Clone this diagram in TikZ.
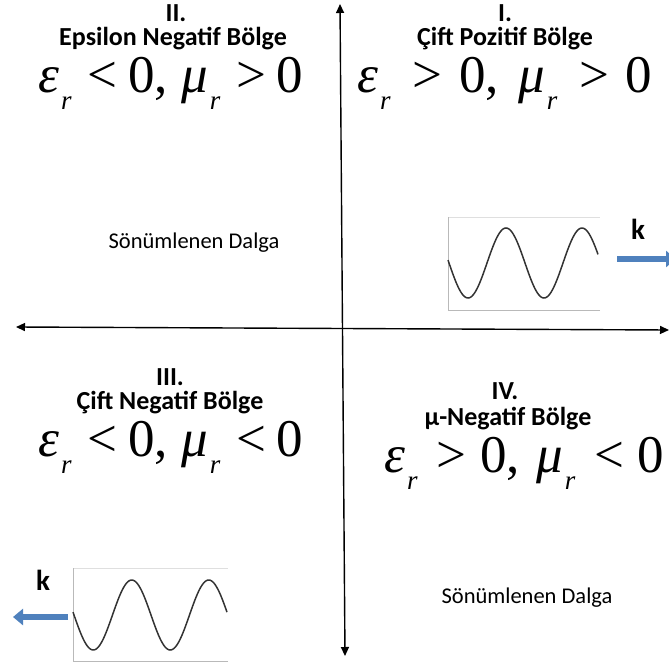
\documentclass[tikz,border=0pt]{standalone}
\usepackage{fontspec}
\setmainfont{Carlito}
\newfontfamily\formfont{Liberation Serif}
\usetikzlibrary{arrows.meta}
\definecolor{kblue}{RGB}{79,129,189}
\newcommand{\subr}{\hspace{0.04em}\raisebox{-0.32em}{\fontsize{27}{27}\selectfont\itshape r}}
% #5 = extra gap
\newcommand{\frm}[5]{{\formfont\fontsize{53}{53}\selectfont\itshape #1\subr\upshape\hspace{\dimexpr0.3em+#5\relax}#2\hspace{\dimexpr0.2em+#5\relax}0,\hspace{\dimexpr0.25em+#5\relax}\itshape #3\subr\upshape\hspace{\dimexpr0.3em+#5\relax}#4\hspace{\dimexpr0.2em+#5\relax}0}}
\begin{document}
\begin{tikzpicture}[x=1pt,y=-1pt,
  roman/.style={font=\fontsize{26}{26}\selectfont\bfseries,inner sep=0pt},
  head/.style={font=\fontsize{26}{26}\selectfont\bfseries,inner sep=0pt},
  note/.style={font=\fontsize{22.5}{22.5}\selectfont},
  formula/.style={anchor=west,inner sep=0pt},
  axis/.style={line width=1.4pt,{Triangle[length=9pt,width=8pt]}-{Triangle[length=9pt,width=8pt]}},
  frameline/.style={gray!55,line width=0.8pt},
  frametop/.style={gray!25,line width=0.8pt},
  wave/.style={line width=1.5pt,black!80,smooth},
  karrow/.style={kblue,line width=6.5pt,-{Triangle[length=10pt,width=16pt]}},
  klabel/.style={font=\fontsize{29}{29}\selectfont\bfseries}]
\useasboundingbox (0,0) rectangle (669,663);
% axes
\coordinate (xl) at (16,327);
\coordinate (xr) at (669,330);
\coordinate (yt) at (340,4);
\coordinate (yb) at (345,656);
\draw[axis] (xl) -- (xr);
\draw[axis] (yt) -- (yb);
% Quadrant II
\node[roman] (r2) at (176,13) {II.};
\node[head] (h2) at (173,39) {Epsilon Negatif Bölge};
\node[formula] (f2) at (38,83) {\frm{ε}{<}{μ}{>}{0pt}};
\node[note] (s2) at (194,243) {Sönümlenen Dalga};
% Quadrant I
\node[roman] (r1) at (505,13) {I.};
\node[head] (h1) at (505,39) {Çift Pozitif Bölge};
\node[formula] (f1) at (357,83) {\frm{ε}{>}{μ}{>}{6pt}};
% Quadrant III
\node[roman] (r3) at (170,377) {III.};
\node[head] (h3) at (170,403) {Çift Negatif Bölge};
\node[formula] (f3) at (38,447) {\frm{ε}{<}{μ}{<}{0pt}};
% Quadrant IV
\node[roman] (r4) at (505,391) {IV.};
\node[head] (h4) at (508,419) {μ-Negatif Bölge};
\node[formula] (f4) at (384,463) {\frm{ε}{>}{μ}{<}{3pt}};
\node[note] (s4) at (527,598) {Sönümlenen Dalga};
% wave box I
\draw[frametop] (448,217) -- (600,217);
\draw[frameline] (600,310) -- (448,310) -- (448,217);
\draw[wave] plot[domain=448:598,samples=120] (\x,{263+35*sin(4.7368*(\x-449))});
\node[klabel] (k1) at (638,229) {k};
\coordinate (a1s) at (617,259);
\coordinate (a1e) at (676,259);
\draw[karrow] (a1s) -- (a1e);
% wave box III
\draw[frametop] (73,568) -- (228,568);
\draw[frameline] (228,661) -- (73,661) -- (73,568);
\draw[wave] plot[domain=73:227,samples=120] (\x,{615+35*sin(4.6753*(\x-74))});
\node[klabel] (k3) at (43,580) {k};
\coordinate (a3s) at (68,617);
\coordinate (a3e) at (13,617);
\draw[karrow] (a3s) -- (a3e);
\end{tikzpicture}
\end{document}
